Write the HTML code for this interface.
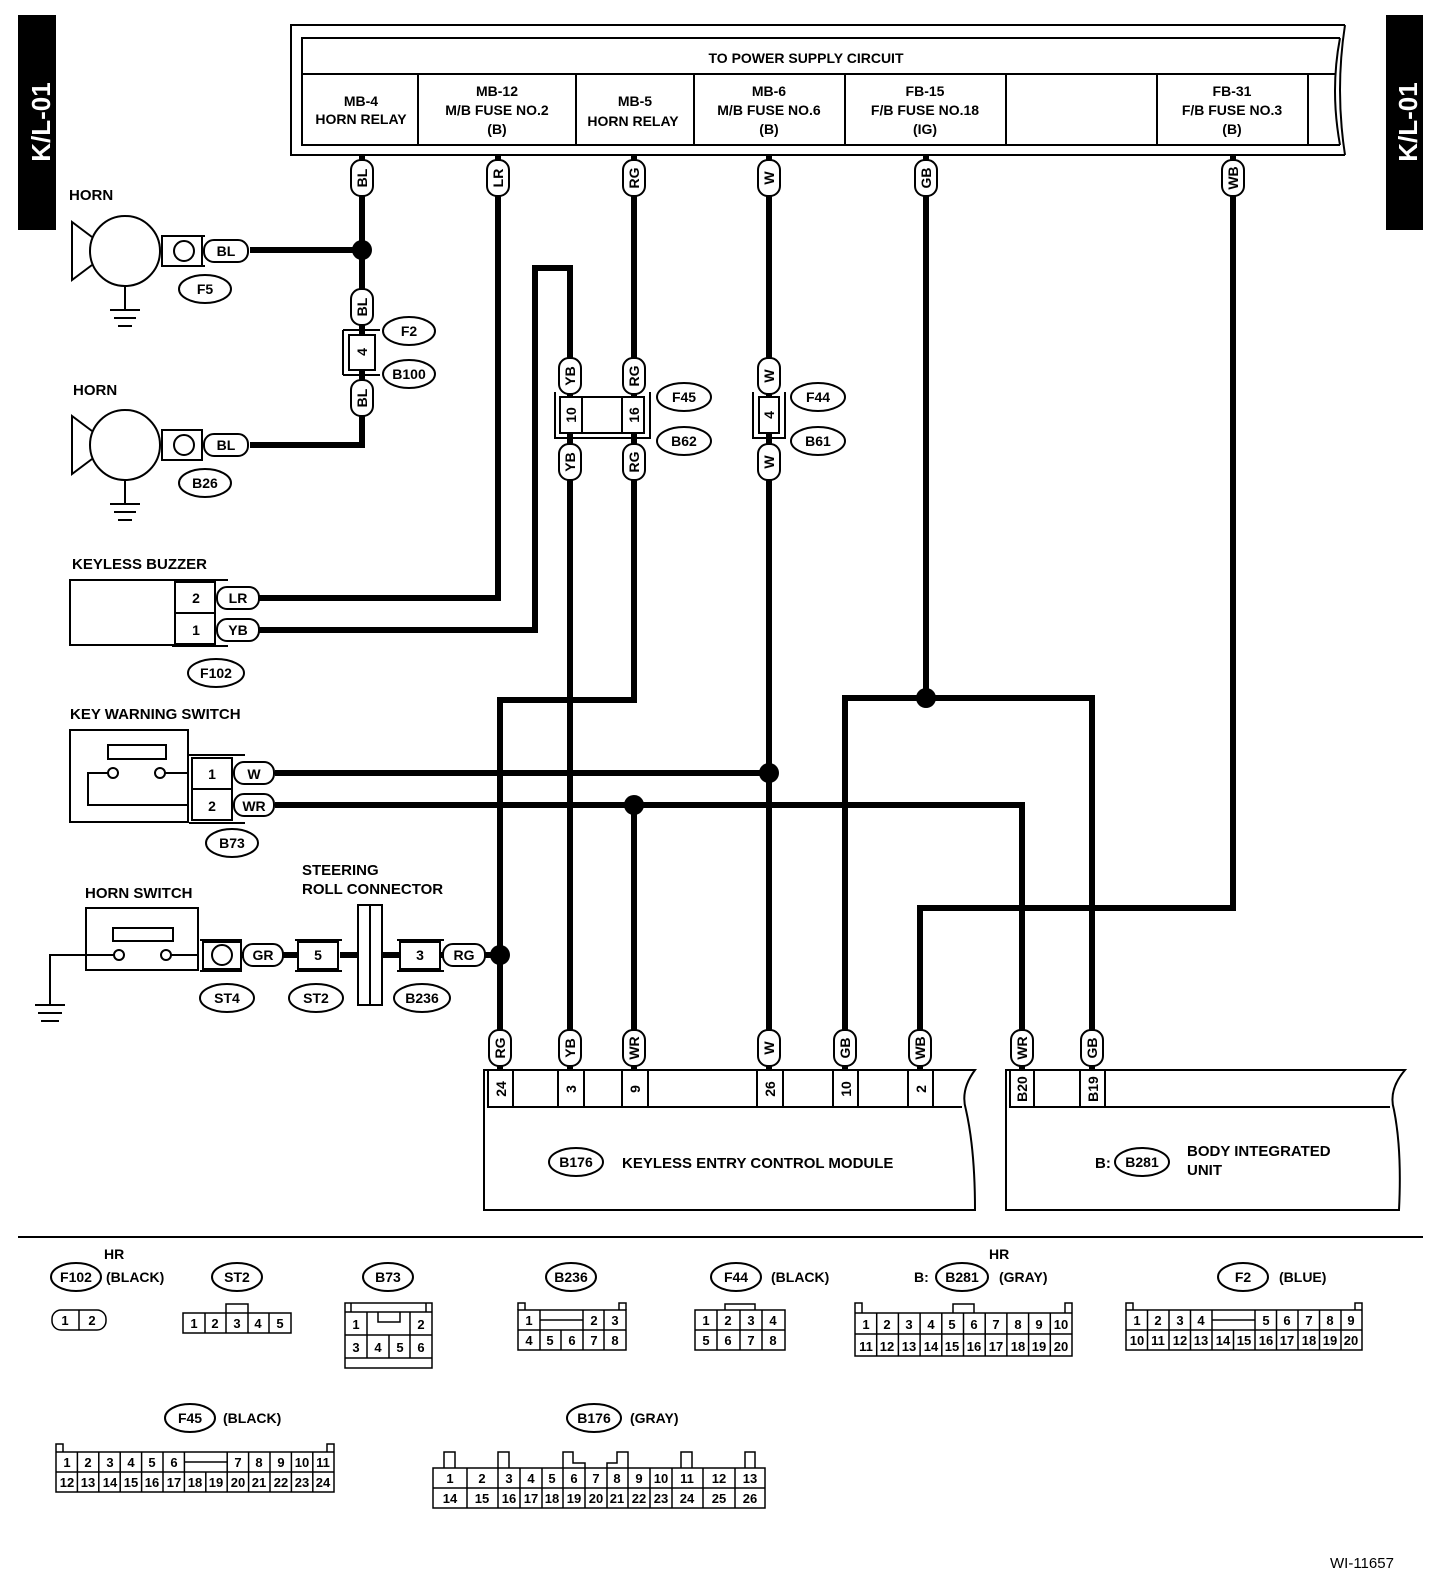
<!DOCTYPE html>
<html><head><meta charset="utf-8"><style>
html,body{margin:0;padding:0;background:#fff}
svg{display:block}
text{font-family:"Liberation Sans",sans-serif;font-weight:bold;fill:#000}
</style></head><body>
<svg width="1456" height="1574" viewBox="0 0 1456 1574" xmlns="http://www.w3.org/2000/svg">
<defs>
<g id="pv"><rect x="-18" y="-11" width="36" height="22" rx="10" fill="#fff" stroke="#000" stroke-width="2"/></g>
</defs>
<rect x="18" y="15" width="38" height="215" fill="#000"/>
<text transform="translate(50,122) rotate(-90)" text-anchor="middle" font-size="26" style="fill:#fff">K/L-01</text>
<rect x="1386" y="15" width="37" height="215" fill="#000"/>
<text transform="translate(1417,122) rotate(-90)" text-anchor="middle" font-size="26" style="fill:#fff">K/L-01</text>

<g fill="none" stroke="#000" stroke-width="2">
<path d="M1345,25 H291 V155 H1345 M1345,25 Q1335,90 1345,155"/>
<path d="M1340,38 H302 V145 H1340 M1340,38 Q1330,90 1340,145"/>
<line x1="302" y1="74" x2="1336" y2="74"/>
<line x1="418" y1="74" x2="418" y2="145"/><line x1="576" y1="74" x2="576" y2="145"/>
<line x1="694" y1="74" x2="694" y2="145"/><line x1="845" y1="74" x2="845" y2="145"/>
<line x1="1006" y1="74" x2="1006" y2="145"/><line x1="1157" y1="74" x2="1157" y2="145"/>
<line x1="1308" y1="74" x2="1308" y2="145"/>
</g>
<g font-size="14" text-anchor="middle">
<text x="806" y="63">TO POWER SUPPLY CIRCUIT</text>
<text x="361" y="106">MB-4</text><text x="361" y="124">HORN RELAY</text>
<text x="497" y="96">MB-12</text><text x="497" y="115">M/B FUSE NO.2</text><text x="497" y="134">(B)</text>
<text x="635" y="106">MB-5</text><text x="633" y="126">HORN RELAY</text>
<text x="769" y="96">MB-6</text><text x="769" y="115">M/B FUSE NO.6</text><text x="769" y="134">(B)</text>
<text x="925" y="96">FB-15</text><text x="925" y="115">F/B FUSE NO.18</text><text x="925" y="134">(IG)</text>
<text x="1232" y="96">FB-31</text><text x="1232" y="115">F/B FUSE NO.3</text><text x="1232" y="134">(B)</text>
</g>

<g fill="none" stroke="#000" stroke-width="6">
<path d="M362,155 V335"/><path d="M362,370 V445 H250"/><path d="M250,250 H362"/>
<path d="M498,155 V598 H258"/>
<path d="M258,630 H535 V268 H570 V1070"/>
<path d="M634,155 V700 H500 V1070"/>
<path d="M769,155 V1070"/>
<path d="M926,155 V698"/><path d="M845,1070 V698 H1092 V1070"/>
<path d="M1233,155 V908 H920 V1070"/>
<path d="M275,773 H769"/>
<path d="M275,805 H1022 V1070"/>
<path d="M634,805 V1070"/>
<path d="M240,955 H300 M340,955 H400 M440,955 H500"/>
</g>
<g fill="#000">
<circle cx="362" cy="250" r="10"/><circle cx="926" cy="698" r="10"/><circle cx="769" cy="773" r="10"/>
<circle cx="634" cy="805" r="10"/><circle cx="500" cy="955" r="10"/>
</g>

<g font-size="14" text-anchor="middle">
<g transform="translate(362,178) rotate(-90)"><use href="#pv"/><text y="5">BL</text></g>
<g transform="translate(498,178) rotate(-90)"><use href="#pv"/><text y="5">LR</text></g>
<g transform="translate(634,178) rotate(-90)"><use href="#pv"/><text y="5">RG</text></g>
<g transform="translate(769,178) rotate(-90)"><use href="#pv"/><text y="5">W</text></g>
<g transform="translate(926,178) rotate(-90)"><use href="#pv"/><text y="5">GB</text></g>
<g transform="translate(1233,178) rotate(-90)"><use href="#pv"/><text y="5">WB</text></g>
<g transform="translate(362,307) rotate(-90)"><use href="#pv"/><text y="5">BL</text></g>
<g transform="translate(362,398) rotate(-90)"><use href="#pv"/><text y="5">BL</text></g>
<g transform="translate(570,376) rotate(-90)"><use href="#pv"/><text y="5">YB</text></g>
<g transform="translate(634,376) rotate(-90)"><use href="#pv"/><text y="5">RG</text></g>
<g transform="translate(769,376) rotate(-90)"><use href="#pv"/><text y="5">W</text></g>
<g transform="translate(570,462) rotate(-90)"><use href="#pv"/><text y="5">YB</text></g>
<g transform="translate(634,462) rotate(-90)"><use href="#pv"/><text y="5">RG</text></g>
<g transform="translate(769,462) rotate(-90)"><use href="#pv"/><text y="5">W</text></g>
<g transform="translate(500,1048) rotate(-90)"><use href="#pv"/><text y="5">RG</text></g>
<g transform="translate(570,1048) rotate(-90)"><use href="#pv"/><text y="5">YB</text></g>
<g transform="translate(634,1048) rotate(-90)"><use href="#pv"/><text y="5">WR</text></g>
<g transform="translate(769,1048) rotate(-90)"><use href="#pv"/><text y="5">W</text></g>
<g transform="translate(845,1048) rotate(-90)"><use href="#pv"/><text y="5">GB</text></g>
<g transform="translate(920,1048) rotate(-90)"><use href="#pv"/><text y="5">WB</text></g>
<g transform="translate(1022,1048) rotate(-90)"><use href="#pv"/><text y="5">WR</text></g>
<g transform="translate(1092,1048) rotate(-90)"><use href="#pv"/><text y="5">GB</text></g>
</g>

<g fill="#fff" stroke="#000" stroke-width="2">
<rect x="349" y="335" width="26" height="35"/>
<path d="M343,330 V375 M343,330 H380 M343,375 H380" fill="none"/>
<rect x="560" y="397" width="84" height="36"/>
<line x1="582" y1="397" x2="582" y2="433"/><line x1="622" y1="397" x2="622" y2="433"/>
<path d="M555,392 V438 H650 V392" fill="none"/>
<rect x="759" y="397" width="20" height="36"/>
<path d="M753,392 V438 H785 V392" fill="none"/>
</g>
<g font-size="14" text-anchor="middle">
<text transform="translate(362,352) rotate(-90)" y="5">4</text>
<text transform="translate(571,415) rotate(-90)" y="5">10</text>
<text transform="translate(634,415) rotate(-90)" y="5">16</text>
<text transform="translate(769,415) rotate(-90)" y="5">4</text>
</g>

<g fill="#fff" stroke="#000" stroke-width="2">
<ellipse cx="205" cy="289" rx="26" ry="14"/><ellipse cx="409" cy="331" rx="26" ry="14"/>
<ellipse cx="409" cy="374" rx="26" ry="14"/><ellipse cx="205" cy="483" rx="26" ry="14"/>
<ellipse cx="684" cy="397" rx="27" ry="14"/><ellipse cx="684" cy="441" rx="27" ry="14"/>
<ellipse cx="818" cy="397" rx="27" ry="14"/><ellipse cx="818" cy="441" rx="27" ry="14"/>
<ellipse cx="216" cy="673" rx="28" ry="14"/><ellipse cx="232" cy="843" rx="26" ry="14"/>
<ellipse cx="227" cy="998" rx="27" ry="14"/><ellipse cx="316" cy="998" rx="27" ry="14"/>
<ellipse cx="422" cy="998" rx="28" ry="14"/>
<ellipse cx="576" cy="1162" rx="27" ry="14"/><ellipse cx="1142" cy="1162" rx="27" ry="14"/>
</g>
<g font-size="14" text-anchor="middle">
<text x="205" y="294">F5</text><text x="409" y="336">F2</text><text x="409" y="379">B100</text>
<text x="205" y="488">B26</text><text x="684" y="402">F45</text><text x="684" y="446">B62</text>
<text x="818" y="402">F44</text><text x="818" y="446">B61</text><text x="216" y="678">F102</text>
<text x="232" y="848">B73</text><text x="227" y="1003">ST4</text><text x="316" y="1003">ST2</text>
<text x="422" y="1003">B236</text><text x="576" y="1167">B176</text><text x="1142" y="1167">B281</text>
</g>

<g fill="none" stroke="#000" stroke-width="2">
<path d="M92,237 L72,222 V280 L92,265"/><circle cx="125" cy="251" r="35"/>
<path d="M125,286 V310 M110,310 H140 M114,318 H136 M118,326 H132" />
<rect x="162" y="236" width="40" height="30" fill="#fff"/><circle cx="184" cy="251" r="10"/>
<path d="M165,236 H205 M165,266 H205"/>
<rect x="204" y="240" width="44" height="22" rx="10" fill="#fff"/>
<path d="M92,431 L72,416 V474 L92,459"/><circle cx="125" cy="445" r="35"/>
<path d="M125,480 V504 M110,504 H140 M114,512 H136 M118,520 H132" />
<rect x="162" y="430" width="40" height="30" fill="#fff"/><circle cx="184" cy="445" r="10"/>
<rect x="204" y="434" width="44" height="22" rx="10" fill="#fff"/>
</g>
<g font-size="14" text-anchor="middle">
<text x="226" y="256">BL</text><text x="226" y="450">BL</text>
</g>
<text x="69" y="200" font-size="15">HORN</text>
<text x="73" y="395" font-size="15">HORN</text>

<text x="72" y="569" font-size="15">KEYLESS BUZZER</text>
<g fill="#fff" stroke="#000" stroke-width="2">
<rect x="70" y="580" width="105" height="65"/>
<rect x="175" y="582" width="40" height="62"/><line x1="175" y1="613" x2="215" y2="613"/>
<path d="M172,580 H228 M172,646 H228" fill="none"/>
<rect x="217" y="587" width="42" height="22" rx="10"/><rect x="217" y="619" width="42" height="22" rx="10"/>
</g>
<g font-size="14" text-anchor="middle">
<text x="196" y="603">2</text><text x="196" y="635">1</text><text x="238" y="603">LR</text><text x="238" y="635">YB</text>
</g>

<text x="70" y="719" font-size="15">KEY WARNING SWITCH</text>
<g fill="none" stroke="#000" stroke-width="2">
<rect x="70" y="730" width="118" height="92"/>
<rect x="108" y="745" width="58" height="14"/>
<circle cx="113" cy="773" r="5"/><circle cx="160" cy="773" r="5"/>
<path d="M108,773 H88 V805 H188 M165,773 H188"/>
<rect x="192" y="758" width="40" height="62" fill="#fff"/><line x1="192" y1="789" x2="232" y2="789"/>
<path d="M189,755 H245 M189,823 H245"/>
<rect x="234" y="762" width="40" height="22" rx="10" fill="#fff"/><rect x="234" y="794" width="40" height="22" rx="10" fill="#fff"/>
</g>
<g font-size="14" text-anchor="middle">
<text x="212" y="779">1</text><text x="212" y="811">2</text><text x="254" y="779">W</text><text x="254" y="811">WR</text>
</g>

<text x="85" y="898" font-size="15">HORN SWITCH</text>
<text x="302" y="875" font-size="15">STEERING</text>
<text x="302" y="894" font-size="15">ROLL CONNECTOR</text>
<g fill="none" stroke="#000" stroke-width="2">
<rect x="86" y="908" width="112" height="62"/>
<rect x="113" y="928" width="60" height="13"/>
<circle cx="119" cy="955" r="5"/><circle cx="166" cy="955" r="5"/>
<path d="M114,955 H50 V1005 M35,1005 H65 M38,1013 H62 M41,1021 H59 M171,955 H198"/>
<rect x="203" y="942" width="38" height="27" fill="#fff"/><circle cx="222" cy="955" r="10"/>
<path d="M200,940 H242 M200,971 H242"/>
<rect x="243" y="944" width="40" height="22" rx="10" fill="#fff"/>
<rect x="298" y="942" width="40" height="27" fill="#fff"/>
<path d="M295,940 H342 M295,971 H342"/>
<rect x="358" y="905" width="24" height="100" fill="#fff"/><line x1="370" y1="905" x2="370" y2="1005"/>
<rect x="400" y="942" width="40" height="27" fill="#fff"/>
<path d="M397,940 H444 M397,971 H444"/>
<rect x="443" y="944" width="42" height="22" rx="10" fill="#fff"/>
</g>
<g font-size="14" text-anchor="middle">
<text x="263" y="960">GR</text><text x="318" y="960">5</text><text x="420" y="960">3</text><text x="464" y="960">RG</text>
</g>

<g fill="none" stroke="#000" stroke-width="2">
<path d="M484,1210 V1070 H975 Q960,1090 966,1110 Q975,1150 975,1210 Z"/>
<path d="M488,1070 V1107 H962"/>
<line x1="513" y1="1070" x2="513" y2="1107"/><line x1="558" y1="1070" x2="558" y2="1107"/>
<line x1="584" y1="1070" x2="584" y2="1107"/><line x1="622" y1="1070" x2="622" y2="1107"/>
<line x1="648" y1="1070" x2="648" y2="1107"/><line x1="757" y1="1070" x2="757" y2="1107"/>
<line x1="783" y1="1070" x2="783" y2="1107"/><line x1="833" y1="1070" x2="833" y2="1107"/>
<line x1="858" y1="1070" x2="858" y2="1107"/><line x1="908" y1="1070" x2="908" y2="1107"/>
<line x1="933" y1="1070" x2="933" y2="1107"/>
<path d="M1006,1210 V1070 H1405 Q1388,1090 1394,1110 Q1402,1150 1399,1210 Z"/>
<path d="M1010,1070 V1107 H1390"/>
<line x1="1034" y1="1070" x2="1034" y2="1107"/><line x1="1080" y1="1070" x2="1080" y2="1107"/>
<line x1="1105" y1="1070" x2="1105" y2="1107"/>
</g>
<g font-size="14" text-anchor="middle">
<text transform="translate(501,1089) rotate(-90)" y="5">24</text>
<text transform="translate(571,1089) rotate(-90)" y="5">3</text>
<text transform="translate(635,1089) rotate(-90)" y="5">9</text>
<text transform="translate(770,1089) rotate(-90)" y="5">26</text>
<text transform="translate(846,1089) rotate(-90)" y="5">10</text>
<text transform="translate(921,1089) rotate(-90)" y="5">2</text>
<text transform="translate(1022,1089) rotate(-90)" y="5">B20</text>
<text transform="translate(1093,1089) rotate(-90)" y="5">B19</text>
</g>
<text x="622" y="1168" font-size="15">KEYLESS ENTRY CONTROL MODULE</text>
<text x="1095" y="1168" font-size="15">B:</text>
<text x="1187" y="1156" font-size="15">BODY INTEGRATED</text>
<text x="1187" y="1175" font-size="15">UNIT</text>

<line x1="18" y1="1237" x2="1423" y2="1237" stroke="#000" stroke-width="2"/>

<g fill="#fff" stroke="#000" stroke-width="2">
<ellipse cx="76" cy="1277" rx="25" ry="14"/><ellipse cx="237" cy="1277" rx="25" ry="14"/>
<ellipse cx="388" cy="1277" rx="25" ry="14"/><ellipse cx="571" cy="1277" rx="25" ry="14"/>
<ellipse cx="736" cy="1277" rx="25" ry="14"/><ellipse cx="962" cy="1277" rx="26" ry="14"/>
<ellipse cx="1243" cy="1277" rx="25" ry="14"/><ellipse cx="190" cy="1418" rx="25" ry="14"/>
<ellipse cx="594" cy="1418" rx="27" ry="14"/>
</g>
<g font-size="14">
<text x="76" y="1282" text-anchor="middle">F102</text><text x="106" y="1282">(BLACK)</text><text x="104" y="1259">HR</text>
<text x="237" y="1282" text-anchor="middle">ST2</text>
<text x="388" y="1282" text-anchor="middle">B73</text>
<text x="571" y="1282" text-anchor="middle">B236</text>
<text x="736" y="1282" text-anchor="middle">F44</text><text x="771" y="1282">(BLACK)</text>
<text x="914" y="1282">B:</text><text x="962" y="1282" text-anchor="middle">B281</text><text x="999" y="1282">(GRAY)</text><text x="989" y="1259">HR</text>
<text x="1243" y="1282" text-anchor="middle">F2</text><text x="1279" y="1282">(BLUE)</text>
<text x="190" y="1423" text-anchor="middle">F45</text><text x="223" y="1423">(BLACK)</text>
<text x="594" y="1423" text-anchor="middle">B176</text><text x="630" y="1423">(GRAY)</text>
<text x="1330" y="1568" style="font-weight:normal" font-size="15">WI-11657</text>
</g>

<g fill="none" stroke="#000" stroke-width="1.5">
<rect x="52" y="1310" width="54" height="20" rx="9"/><line x1="79" y1="1310" x2="79" y2="1330"/>
<rect x="183" y="1313" width="108" height="20"/>
<path d="M205,1313V1333M226,1313V1333M248,1313V1333M269,1313V1333M226,1313V1304H248V1313"/>
<path d="M345,1303 H432 V1368 H345 Z M351,1303V1312M426,1303V1312"/>
<path d="M345,1312H432M345,1335H432M345,1358H432M367,1312V1358M410,1312V1358M389,1335V1358M378,1312V1322H400V1312"/>
<path d="M518,1310H626V1350H518Z M518,1330H626M540,1310V1350M583,1310V1350M604,1310V1350M561,1330V1350M540,1320H583"/>
<path d="M518,1310V1303H525V1310M619,1310V1303H626V1310"/>
<path d="M695,1310H785V1350H695Z M695,1330H785M717,1310V1350M740,1310V1350M762,1310V1350M725,1310V1304H755V1310"/>
<path d="M855,1313H1072V1356H855Z M855,1334H1072 M876.7,1313V1356M898.4,1313V1356M920.1,1313V1356M941.8,1313V1356M963.5,1313V1356M985.2,1313V1356M1006.9,1313V1356M1028.6,1313V1356M1050.3,1313V1356 M855,1313V1303H862V1313M1065,1313V1303H1072V1313M953,1313V1304H974V1313"/>
<path d="M1126,1310H1362V1350H1126Z M1126,1330H1362 M1147.5,1310V1350M1169,1310V1350M1190.5,1310V1350M1212,1310V1350M1233.5,1330V1350M1255,1310V1350M1276.5,1310V1350M1298,1310V1350M1319.5,1310V1350M1341,1310V1350 M1212,1320H1255 M1126,1310V1303H1133V1310M1355,1310V1303H1362V1310"/>
<path d="M56,1452H334V1492H56Z M56,1472H334 M77.4,1452V1492M98.8,1452V1492M120.2,1452V1492M141.6,1452V1492M163,1452V1492M184.4,1452V1492M205.8,1472V1492M227.2,1452V1492M248.6,1452V1492M270,1452V1492M291.4,1452V1492M312.8,1452V1492 M184.4,1462H227.2 M56,1452V1444H63V1452M327,1452V1444H334V1452"/>
<path d="M433,1468H765V1508H433Z M433,1488H765 M467,1468V1508M498,1468V1508M520,1468V1508M542,1468V1508M563,1468V1508M585,1468V1508M607,1468V1508M628,1468V1508M650,1468V1508M672,1468V1508M703,1468V1508M735,1468V1508"/>
<path d="M444,1468V1452H455V1468M498,1468V1452H509V1468M563,1468V1452H573V1463H585V1468M607,1468V1463H617V1452H628V1468M681,1468V1452H692V1468M745,1468V1452H755V1468"/>
</g>
<g font-size="13" text-anchor="middle" style="font-weight:normal">
<text x="65" y="1325">1</text><text x="92" y="1325">2</text>
<text x="194" y="1328">1</text><text x="215" y="1328">2</text><text x="237" y="1328">3</text><text x="258" y="1328">4</text><text x="280" y="1328">5</text>
<text x="356" y="1329">1</text><text x="421" y="1329">2</text><text x="356" y="1352">3</text><text x="378" y="1352">4</text><text x="400" y="1352">5</text><text x="421" y="1352">6</text>
<text x="529" y="1325">1</text><text x="594" y="1325">2</text><text x="615" y="1325">3</text>
<text x="529" y="1345">4</text><text x="550" y="1345">5</text><text x="572" y="1345">6</text><text x="594" y="1345">7</text><text x="615" y="1345">8</text>
<text x="706" y="1325">1</text><text x="728" y="1325">2</text><text x="751" y="1325">3</text><text x="773" y="1325">4</text>
<text x="706" y="1345">5</text><text x="728" y="1345">6</text><text x="751" y="1345">7</text><text x="773" y="1345">8</text>
<text x="866" y="1329">1</text><text x="887" y="1329">2</text><text x="909" y="1329">3</text><text x="931" y="1329">4</text><text x="952" y="1329">5</text><text x="974" y="1329">6</text><text x="996" y="1329">7</text><text x="1018" y="1329">8</text><text x="1039" y="1329">9</text><text x="1061" y="1329">10</text>
<text x="866" y="1351">11</text><text x="887" y="1351">12</text><text x="909" y="1351">13</text><text x="931" y="1351">14</text><text x="952" y="1351">15</text><text x="974" y="1351">16</text><text x="996" y="1351">17</text><text x="1018" y="1351">18</text><text x="1039" y="1351">19</text><text x="1061" y="1351">20</text>
<text x="1137" y="1325">1</text><text x="1158" y="1325">2</text><text x="1180" y="1325">3</text><text x="1201" y="1325">4</text><text x="1266" y="1325">5</text><text x="1287" y="1325">6</text><text x="1309" y="1325">7</text><text x="1330" y="1325">8</text><text x="1351" y="1325">9</text>
<text x="1137" y="1345">10</text><text x="1158" y="1345">11</text><text x="1180" y="1345">12</text><text x="1201" y="1345">13</text><text x="1223" y="1345">14</text><text x="1244" y="1345">15</text><text x="1266" y="1345">16</text><text x="1287" y="1345">17</text><text x="1309" y="1345">18</text><text x="1330" y="1345">19</text><text x="1351" y="1345">20</text>
<text x="67" y="1467">1</text><text x="88" y="1467">2</text><text x="110" y="1467">3</text><text x="131" y="1467">4</text><text x="152" y="1467">5</text><text x="174" y="1467">6</text><text x="238" y="1467">7</text><text x="259" y="1467">8</text><text x="281" y="1467">9</text><text x="302" y="1467">10</text><text x="323" y="1467">11</text>
<text x="67" y="1487">12</text><text x="88" y="1487">13</text><text x="110" y="1487">14</text><text x="131" y="1487">15</text><text x="152" y="1487">16</text><text x="174" y="1487">17</text><text x="195" y="1487">18</text><text x="216" y="1487">19</text><text x="238" y="1487">20</text><text x="259" y="1487">21</text><text x="281" y="1487">22</text><text x="302" y="1487">23</text><text x="323" y="1487">24</text>
<text x="450" y="1483">1</text><text x="482" y="1483">2</text><text x="509" y="1483">3</text><text x="531" y="1483">4</text><text x="552" y="1483">5</text><text x="574" y="1483">6</text><text x="596" y="1483">7</text><text x="617" y="1483">8</text><text x="639" y="1483">9</text><text x="661" y="1483">10</text><text x="687" y="1483">11</text><text x="719" y="1483">12</text><text x="750" y="1483">13</text>
<text x="450" y="1503">14</text><text x="482" y="1503">15</text><text x="509" y="1503">16</text><text x="531" y="1503">17</text><text x="552" y="1503">18</text><text x="574" y="1503">19</text><text x="596" y="1503">20</text><text x="617" y="1503">21</text><text x="639" y="1503">22</text><text x="661" y="1503">23</text><text x="687" y="1503">24</text><text x="719" y="1503">25</text><text x="750" y="1503">26</text>
</g>
</svg>
</body></html>
